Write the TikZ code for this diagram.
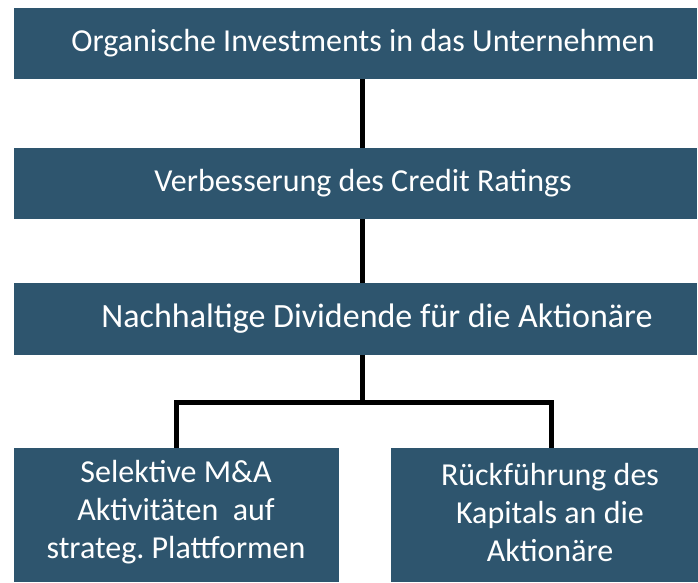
\documentclass[tikz,border=0pt]{standalone}
\usepackage{fontspec}
\setmainfont{Carlito}
\definecolor{boxblue}{RGB}{46,85,110}
\frenchspacing
\begin{document}
\begin{tikzpicture}[x=1pt,y=-1pt,
  box/.style={fill=boxblue,draw=none,inner sep=0pt},
  lbl/.style={text=white,font=\fontsize{32}{38}\selectfont,align=center,inner sep=0pt},
  conn/.style={line width=5pt,draw=black}]
\useasboundingbox (0,0) rectangle (698,582);
\fill[white] (0,0) rectangle (698,582);
% boxes
\node[box,minimum width=683pt,minimum height=71pt] (b1) at (355.5,43.5) {};
\node[box,minimum width=683pt,minimum height=71pt] (b2) at (355.5,183.5) {};
\node[box,minimum width=683pt,minimum height=72pt] (b3) at (355.5,319) {};
\node[box,minimum width=325pt,minimum height=134pt] (b4) at (176.5,515) {};
\node[box,minimum width=307pt,minimum height=134pt] (b5) at (544.5,515) {};
% texts
\node[lbl] (t1) at (363,43.5) {Organische Investments in das Unternehmen};
\node[lbl] (t2) at (363,183.5) {Verbesserung des Credit Ratings};
\node[lbl,font=\fontsize{34}{40}\selectfont] (t3) at (377,319) {Nachhaltige Dividende für die Aktionäre};
\node[lbl] (t4) at (176,512) {Selektive M\&A\\Aktivitäten\ \ auf\\strateg. Plattformen};
\node[lbl] (t5) at (550,512) {Rückführung des\\Kapitals an die\\Aktionäre};
% connectors
\coordinate (j) at (362,402);
\coordinate (jl) at (176,402);
\coordinate (jr) at (551,402);
\draw[conn] (b1.south -| j) -- (b2.north -| j);
\draw[conn] (b2.south -| j) -- (b3.north -| j);
\draw[conn] (b3.south -| j) -- (j);
\draw[conn,line join=miter] (b4.north -| jl) -- (jl) -- (jr) -- (b5.north -| jr);
\end{tikzpicture}
\end{document}
